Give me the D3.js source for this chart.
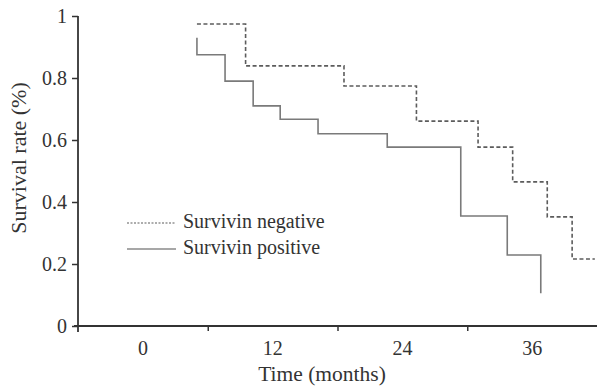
<!DOCTYPE html>
<html>
<head>
<meta charset="utf-8">
<script src="https://cdn.jsdelivr.net/npm/d3@7"></script>
<style>
  body { margin: 0; background: #fff; }
  svg text { font-family: "Liberation Serif", "Times New Roman", serif; }
</style>
</head>
<body>
<svg id="chart" width="598" height="387"></svg>
<script>
// Kaplan-Meier steps (months, survival)
var negTimes = [5, 9.5, 18.6, 25.3, 31.0, 34.2, 37.4, 39.7, 41.8];
var negSurv = [0.974, 0.839, 0.774, 0.661, 0.577, 0.465, 0.352, 0.216, 0.216];
var posTimes = [5, 5, 7.6, 10.2, 12.7, 16.2, 22.6, 29.4, 33.7, 36.8];
var posSurv = [0.93, 0.875, 0.79, 0.71, 0.667, 0.62, 0.577, 0.355, 0.229, 0.106];
var xLabels = [0, 12, 24, 36];
var xTickMarks = [6, 18, 30];
var yTicks = [0, 0.2, 0.4, 0.6, 0.8, 1];
var seriesNames = ["Survivin negative", "Survivin positive"];

var svg = d3.select("#chart");
var margin = {top: 16, right: 1, bottom: 61, left: 78};
var width = 598 - margin.left - margin.right;
var height = 387 - margin.top - margin.bottom;
var g = svg.append("g")
    .attr("transform", "translate(" + margin.left + "," + margin.top + ")");

var x = d3.scaleLinear().domain([-6, 42]).range([0, width]);
var y = d3.scaleLinear().domain([0, 1]).range([height, 0]);

var axisColor = "#333";

// y axis
var yAxis = g.append("g")
    .call(d3.axisLeft(y).tickValues(yTicks).tickSize(6).tickPadding(5)
        .tickFormat(d3.format("~g")));
yAxis.select(".domain").attr("d", "M0,0V" + (height + 6));

// x axis: marks between labels
var xAxis = g.append("g")
    .attr("transform", "translate(0," + height + ")")
    .call(d3.axisBottom(x).tickValues(xTickMarks).tickSize(5).tickFormat(""));
xAxis.select(".domain").attr("d", "M-4,0H" + width);

g.append("g")
    .attr("transform", "translate(0," + height + ")")
    .selectAll("text")
    .data(xLabels)
    .enter().append("text")
    .attr("x", function (d) { return x(d); })
    .attr("y", 29)
    .attr("text-anchor", "middle")
    .attr("fill", "#333")
    .style("font-size", "20px")
    .text(function (d) { return d; });

[yAxis, xAxis].forEach(function (a) {
    a.attr("font-family", null).attr("font-size", null);
    a.selectAll(".domain").attr("stroke", axisColor).attr("stroke-width", 1.8);
    a.selectAll(".tick line").attr("stroke", axisColor).attr("stroke-width", 1.5);
    a.selectAll(".tick text").attr("fill", "#333").style("font-size", "20px");
});

// axis titles
svg.append("text")
    .attr("x", 322)
    .attr("y", 381)
    .attr("text-anchor", "middle")
    .attr("fill", "#333")
    .style("font-size", "21.5px")
    .text("Time (months)");

svg.append("text")
    .attr("transform", "translate(26,158) rotate(-90)")
    .attr("text-anchor", "middle")
    .attr("fill", "#333")
    .style("font-size", "22px")
    .text("Survival rate (%)");

// step lines
var line = d3.line()
    .x(function (d) { return x(d[0]); })
    .y(function (d) { return y(d[1]); })
    .curve(d3.curveStepAfter);

g.append("path")
    .datum(d3.zip(negTimes, negSurv))
    .attr("fill", "none")
    .attr("stroke", "#5c5c5c")
    .attr("stroke-width", 1.6)
    .attr("stroke-dasharray", "4,2.5")
    .attr("d", line);

g.append("path")
    .datum(d3.zip(posTimes, posSurv))
    .attr("fill", "none")
    .attr("stroke", "#7a7a7a")
    .attr("stroke-width", 1.6)
    .attr("d", line);

// legend
var legend = svg.append("g")
    .selectAll("g")
    .data(seriesNames)
    .enter().append("g")
    .attr("transform", function (d, i) {
        return "translate(127," + (223 + i * 26) + ")";
    });

legend.append("line")
    .attr("x1", 0)
    .attr("x2", 49)
    .attr("stroke", function (d, i) { return i === 0 ? "#5c5c5c" : "#8a8a8a"; })
    .attr("stroke-width", function (d, i) { return i === 0 ? 1.2 : 1.6; })
    .attr("stroke-dasharray", function (d, i) { return i === 0 ? "2,1.5" : null; });

legend.append("text")
    .attr("x", 56)
    .attr("y", 5)
    .attr("fill", "#333")
    .style("font-size", "20px")
    .text(function (d) { return d; });
</script>
</body>
</html>
